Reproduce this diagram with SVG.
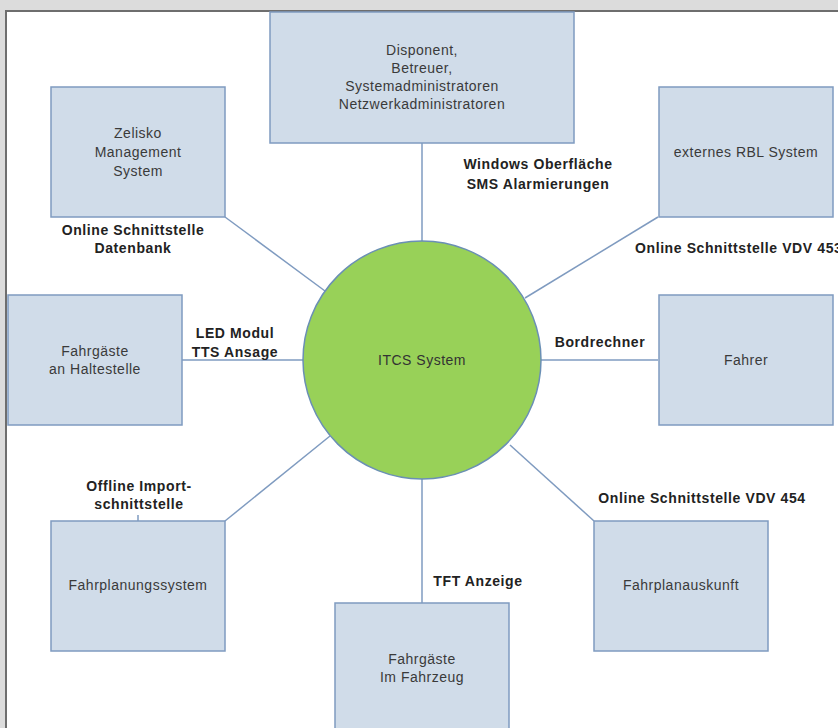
<svg xmlns="http://www.w3.org/2000/svg" width="838" height="728" viewBox="0 0 838 728">
<style>
.node rect{fill:#d0dce9;stroke:#7f9bc0;stroke-width:1.5}
.node text{font-family:"Liberation Sans",Arial,sans-serif;font-size:14px;letter-spacing:0.5px;fill:#3a3a3a;text-anchor:middle}
.lbl{font-family:"Liberation Sans",Arial,sans-serif;font-size:14px;letter-spacing:0.6px;font-weight:bold;fill:#222;text-anchor:middle}
#connectors line{stroke:#7f9bc0;stroke-width:1.5}
</style>
<rect x="0" y="0" width="838" height="728" fill="#dcdcdc"/>
<rect x="6" y="11" width="840" height="730" fill="#fff" stroke="#6e6e6e" stroke-width="2"/>
<g id="connectors">
<line x1="422" y1="143" x2="422" y2="242"/>
<line x1="225" y1="217" x2="325" y2="291"/>
<line x1="658" y1="217" x2="525" y2="298"/>
<line x1="182" y1="360" x2="303" y2="360"/>
<line x1="541" y1="360" x2="658" y2="360"/>
<line x1="225" y1="521" x2="330" y2="436"/>
<line x1="594" y1="521" x2="510" y2="445"/>
<line x1="422" y1="479" x2="422" y2="603"/>
<line x1="138" y1="515" x2="138" y2="521"/>
</g>
<g id="disponent" class="node">
<rect x="270" y="12" width="304" height="131"/>
<text x="422" y="55">Disponent,</text>
<text x="422" y="73">Betreuer,</text>
<text x="422" y="91">Systemadministratoren</text>
<text x="422" y="109">Netzwerkadministratoren</text>
</g>
<g id="zelisko" class="node">
<rect x="51" y="87" width="174" height="130"/>
<text x="138" y="138">Zelisko</text>
<text x="138" y="157">Management</text>
<text x="138" y="176">System</text>
</g>
<g id="rbl" class="node">
<rect x="659" y="87" width="174" height="130"/>
<text x="746" y="157">externes RBL System</text>
</g>
<g id="haltestelle" class="node">
<rect x="8" y="295" width="174" height="130"/>
<text x="95" y="356">Fahrgäste</text>
<text x="95" y="374">an Haltestelle</text>
</g>
<g id="fahrer" class="node">
<rect x="659" y="295" width="174" height="130"/>
<text x="746" y="365">Fahrer</text>
</g>
<g id="fahrplanung" class="node">
<rect x="51" y="521" width="174" height="130"/>
<text x="138" y="590">Fahrplanungssystem</text>
</g>
<g id="fahrplanauskunft" class="node">
<rect x="594" y="521" width="174" height="130"/>
<text x="681" y="590">Fahrplanauskunft</text>
</g>
<g id="fahrzeug" class="node">
<rect x="335" y="603" width="174" height="140"/>
<text x="422" y="664">Fahrgäste</text>
<text x="422" y="682">Im Fahrzeug</text>
</g>
<g id="itcs">
<circle cx="422" cy="360" r="119" fill="#98d158" stroke="#6a8fb5" stroke-width="1.5"/>
<text x="422" y="365" font-family="Liberation Sans,Arial,sans-serif" font-size="14" letter-spacing="0.5" fill="#333" text-anchor="middle">ITCS System</text>
</g>
<g id="labels">
<text class="lbl" x="538" y="169">Windows Oberfläche</text>
<text class="lbl" x="538" y="189">SMS Alarmierungen</text>
<text class="lbl" x="133" y="235">Online Schnittstelle</text>
<text class="lbl" x="133" y="253">Datenbank</text>
<text class="lbl" x="635" y="253" style="text-anchor:start">Online Schnittstelle VDV 453</text>
<text class="lbl" x="235" y="338">LED Modul</text>
<text class="lbl" x="235" y="357">TTS Ansage</text>
<text class="lbl" x="600" y="347">Bordrechner</text>
<text class="lbl" x="139" y="491">Offline Import-</text>
<text class="lbl" x="139" y="509">schnittstelle</text>
<text class="lbl" x="702" y="503">Online Schnittstelle VDV 454</text>
<text class="lbl" x="478" y="586">TFT Anzeige</text>
</g>
</svg>
